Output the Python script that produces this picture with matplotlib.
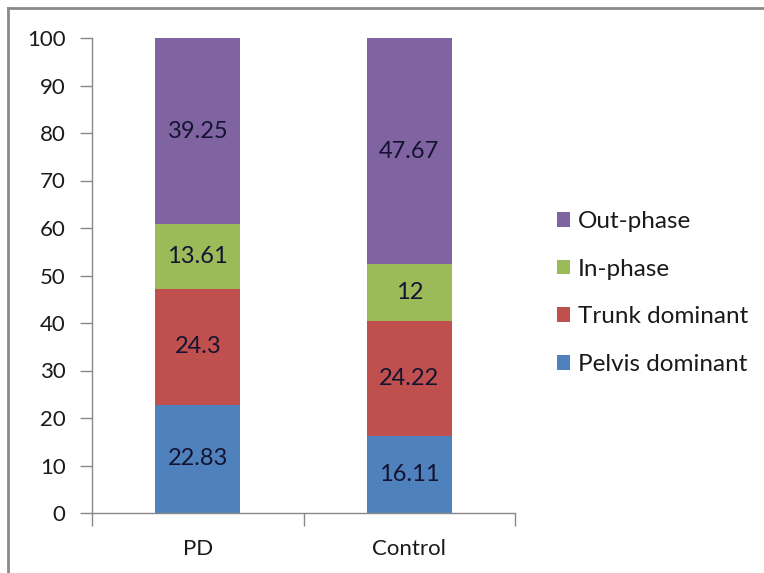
import matplotlib
matplotlib.use("Agg")
import matplotlib.pyplot as plt
from matplotlib.lines import Line2D

plt.rcParams['font.family'] = ['Lato', 'DejaVu Sans']

categories = ["PD", "Control"]
series_names = ["Pelvis dominant", "Trunk dominant", "In-phase", "Out-phase"]
pelvis = [22.83, 16.11]
trunk = [24.3, 24.22]
inphase = [13.61, 12]
outphase = [39.25, 47.67]
label_texts = [["22.83", "16.11"], ["24.3", "24.22"], ["13.61", "12"], ["39.25", "47.67"]]
yticks = [0, 10, 20, 30, 40, 50, 60, 70, 80, 90, 100]
colors = ["#4F81BD", "#C0504D", "#9BBB59", "#8064A2"]

FS = 16
W, H = 764, 573
fig = plt.figure(figsize=(W / 100, H / 100), dpi=100)
ax = fig.add_axes([92 / W, 1 - 513 / H, (515 - 92) / W, (513 - 38) / H])

x = list(range(len(categories)))
bottoms = [0.0] * len(categories)
for vals, name, col, labs in zip([pelvis, trunk, inphase, outphase], series_names, colors, label_texts):
    bars = ax.bar(x, vals, width=0.4, bottom=bottoms, color=col, label=name, zorder=2)
    for b, v, lab in zip(bars, vals, labs):
        ax.text(b.get_x() + b.get_width() / 2, b.get_y() + v / 2, lab,
                ha='center', va='center', fontsize=17, color='#141432')
    bottoms = [bb + v for bb, v in zip(bottoms, vals)]

ax.set_xlim(-0.5, 1.5)
ax.set_ylim(0, 100)
ax.set_yticks(yticks)
ax.set_yticklabels([str(t) for t in yticks])
ax.set_xticks(x)
ax.set_xticklabels(categories)
ax.set_xticks([-0.5, 0.5, 1.5], minor=True)
ax.tick_params(axis='x', which='major', length=0, pad=19, labelsize=FS, labelcolor='#1a1a1a')
ax.tick_params(axis='x', which='minor', length=9, width=1, color='#888888', direction='out')
ax.tick_params(axis='y', length=9, width=1, color='#888888', direction='out', pad=10,
               labelsize=FS, labelcolor='#1a1a1a')
for s in ['top', 'right']:
    ax.spines[s].set_visible(False)
for s in ['left', 'bottom']:
    ax.spines[s].set_color('#888888')
    ax.spines[s].set_linewidth(1)

h, l = ax.get_legend_handles_labels()
leg = fig.legend(h[::-1], l[::-1], loc='center left', bbox_to_anchor=(557 / W, 1 - 293 / H),
                 frameon=False, fontsize=17.5, handlelength=0.55, handleheight=0.55,
                 handletextpad=0.3, labelspacing=1.1, borderaxespad=0, borderpad=0)
for t in leg.get_texts():
    t.set_color('#1a1a1a')

# figure border (top and left)
fig.add_artist(Line2D([8 / W, 1], [1 - 8 / H, 1 - 8 / H], transform=fig.transFigure, color='#8a8a8a', lw=2))
fig.add_artist(Line2D([8 / W, 8 / W], [0, 1 - 8 / H], transform=fig.transFigure, color='#8a8a8a', lw=2))

fig.savefig("out.png", dpi=100)
